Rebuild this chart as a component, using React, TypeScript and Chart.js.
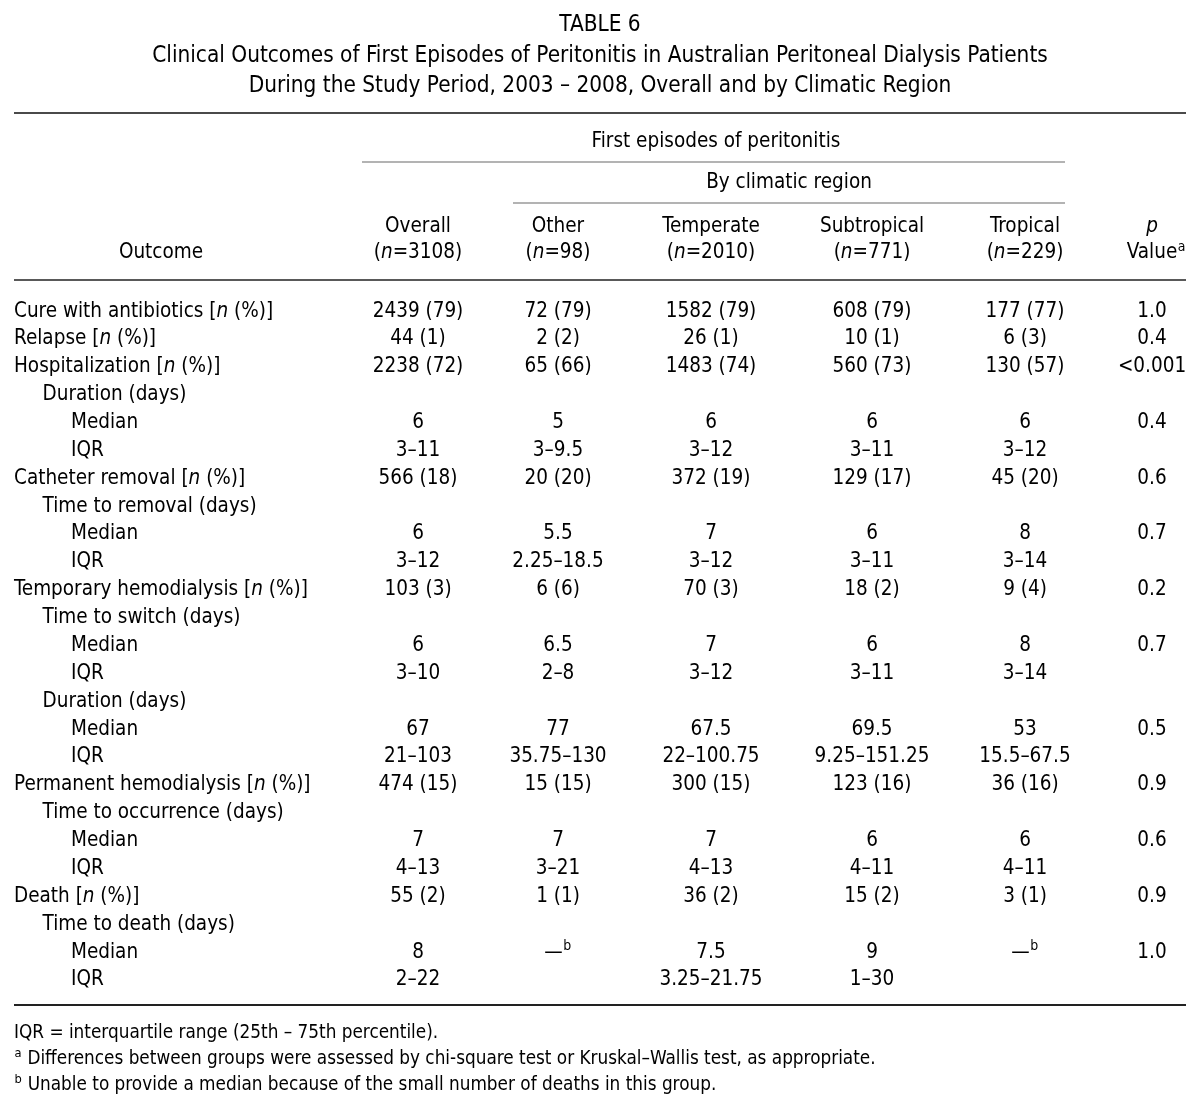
import React, { useEffect, useRef } from 'react';
import { Chart, registerables } from 'chart.js';

Chart.register(...registerables);

// ---------------- DATA ----------------
const TITLE_LINES = [
  'TABLE 6',
  'Clinical Outcomes of First Episodes of Peritonitis in Australian Peritoneal Dialysis Patients',
  'During the Study Period, 2003 – 2008, Overall and by Climatic Region',
];
const SPANNER_ALL = 'First episodes of peritonitis';
const SPANNER_REGION = 'By climatic region';
const OUTCOME_HEADER = 'Outcome';
const COLUMN_NAMES = ['Overall', 'Other', 'Temperate', 'Subtropical', 'Tropical'];
const COLUMN_N = ['3108', '98', '2010', '771', '229'];
const P_HEADER = ['*p*', 'Value^a'];

const ROW_LABELS = [
  'Cure with antibiotics [*n* (%)]',
  'Relapse [*n* (%)]',
  'Hospitalization [*n* (%)]',
  'Duration (days)',
  'Median',
  'IQR',
  'Catheter removal [*n* (%)]',
  'Time to removal (days)',
  'Median',
  'IQR',
  'Temporary hemodialysis [*n* (%)]',
  'Time to switch (days)',
  'Median',
  'IQR',
  'Duration (days)',
  'Median',
  'IQR',
  'Permanent hemodialysis [*n* (%)]',
  'Time to occurrence (days)',
  'Median',
  'IQR',
  'Death [*n* (%)]',
  'Time to death (days)',
  'Median',
  'IQR',
];
const ROW_LEVEL = [0, 0, 0, 1, 2, 2, 0, 1, 2, 2, 0, 1, 2, 2, 1, 2, 2, 0, 1, 2, 2, 0, 1, 2, 2];

const OVERALL = ['2439 (79)', '44 (1)', '2238 (72)', '', '6', '3–11', '566 (18)', '', '6', '3–12', '103 (3)', '', '6', '3–10', '', '67', '21–103', '474 (15)', '', '7', '4–13', '55 (2)', '', '8', '2–22'];
const OTHER = ['72 (79)', '2 (2)', '65 (66)', '', '5', '3–9.5', '20 (20)', '', '5.5', '2.25–18.5', '6 (6)', '', '6.5', '2–8', '', '77', '35.75–130', '15 (15)', '', '7', '3–21', '1 (1)', '', '—^b', ''];
const TEMPERATE = ['1582 (79)', '26 (1)', '1483 (74)', '', '6', '3–12', '372 (19)', '', '7', '3–12', '70 (3)', '', '7', '3–12', '', '67.5', '22–100.75', '300 (15)', '', '7', '4–13', '36 (2)', '', '7.5', '3.25–21.75'];
const SUBTROPICAL = ['608 (79)', '10 (1)', '560 (73)', '', '6', '3–11', '129 (17)', '', '6', '3–11', '18 (2)', '', '6', '3–11', '', '69.5', '9.25–151.25', '123 (16)', '', '6', '4–11', '15 (2)', '', '9', '1–30'];
const TROPICAL = ['177 (77)', '6 (3)', '130 (57)', '', '6', '3–12', '45 (20)', '', '8', '3–14', '9 (4)', '', '8', '3–14', '', '53', '15.5–67.5', '36 (16)', '', '6', '4–11', '3 (1)', '', '—^b', ''];
const P_VALUES = ['1.0', '0.4', '<0.001', '', '0.4', '', '0.6', '', '0.7', '', '0.2', '', '0.7', '', '', '0.5', '', '0.9', '', '0.6', '', '0.9', '', '1.0', ''];

const FOOTNOTES = [
  'IQR = interquartile range (25th – 75th percentile).',
  '^a Differences between groups were assessed by chi-square test or Kruskal–Wallis test, as appropriate.',
  '^b Unable to provide a median because of the small number of deaths in this group.',
];

// ---------------- LAYOUT / STYLE ----------------
const W = 1200;
const H = 1111;
const FONT = "'DejaVu Sans Condensed', 'DejaVu Sans', sans-serif";
const BODY_SIZE = 20.5;
const TITLE_SIZE = 22.4;
const NOTE_SIZE = 18.8;
const SUP_SCALE = 0.68;
const TEXT_COLOR = '#000';
const LABEL_X = 14;
const INDENT = 28.5;
const COL_X = [418, 558, 711, 872, 1025, 1152];
const BASELINE_SHIFT = 7;
const LAYOUT = {
  titleBaselines: [31, 62, 92],
  spannerAllY: 147,
  spannerRegionY: 188,
  headY1: 232,
  headY2: 258,
  outcomeX: 161,
  spannerAllX: 716,
  spannerRegionX: 789,
  noteBaselines: [1038, 1064, 1090],
  rules: [
    { y: 113, x1: 14, x2: 1186, w: 2, c: '#4a4a4a' },
    { y: 162, x1: 362, x2: 1065, w: 1.5, c: '#9a9a9a' },
    { y: 203, x1: 513, x2: 1065, w: 1.5, c: '#9a9a9a' },
    { y: 280, x1: 14, x2: 1186, w: 1.5, c: '#222' },
    { y: 1005, x1: 14, x2: 1186, w: 2, c: '#222' },
  ],
};

type Seg = { t: string; it: boolean; sup: boolean };

function parseRich(text: string): Seg[] {
  const segs: Seg[] = [];
  let it = false;
  let buf = '';
  for (let k = 0; k < text.length; k++) {
    const ch = text[k];
    if (ch === '*') {
      if (buf) segs.push({ t: buf, it, sup: false });
      buf = '';
      it = !it;
    } else if (ch === '^') {
      if (buf) segs.push({ t: buf, it, sup: false });
      buf = '';
      segs.push({ t: text[k + 1], it, sup: true });
      k++;
    } else {
      buf += ch;
    }
  }
  if (buf) segs.push({ t: buf, it, sup: false });
  return segs;
}

function drawRich(
  ctx: CanvasRenderingContext2D,
  text: string,
  x: number,
  y: number,
  size: number,
  align: 'left' | 'center' | 'right',
  hangSup = false
) {
  if (!text) return;
  const segs = parseRich(text);
  const fontOf = (s: Seg) => `${s.it ? 'italic ' : ''}${s.sup ? size * SUP_SCALE : size}px ${FONT}`;
  const widths = segs.map((s) => {
    ctx.font = fontOf(s);
    return ctx.measureText(s.t).width + (s.sup ? 1 : 0);
  });
  let total = 0;
  segs.forEach((s, i) => {
    if (!(hangSup && s.sup)) total += widths[i];
  });
  let cx = align === 'left' ? x : align === 'center' ? x - total / 2 : x - total;
  ctx.textAlign = 'left';
  ctx.textBaseline = 'alphabetic';
  ctx.fillStyle = TEXT_COLOR;
  segs.forEach((s, i) => {
    ctx.font = fontOf(s);
    ctx.fillText(s.t, cx + (s.sup ? 0.5 : 0), s.sup ? y - size * 0.36 : y);
    cx += widths[i];
  });
}

const tablePlugin = {
  id: 'tableText',
  afterDatasetsDraw(chart: any) {
    const ctx: CanvasRenderingContext2D = chart.ctx;
    ctx.save();
    // titles
    TITLE_LINES.forEach((t, i) => drawRich(ctx, t, W / 2, LAYOUT.titleBaselines[i], TITLE_SIZE, 'center'));
    // rules
    LAYOUT.rules.forEach((r) => {
      ctx.beginPath();
      ctx.strokeStyle = r.c;
      ctx.lineWidth = r.w;
      ctx.moveTo(r.x1, r.y);
      ctx.lineTo(r.x2, r.y);
      ctx.stroke();
    });
    // spanners & headers
    drawRich(ctx, SPANNER_ALL, LAYOUT.spannerAllX, LAYOUT.spannerAllY, BODY_SIZE, 'center');
    drawRich(ctx, SPANNER_REGION, LAYOUT.spannerRegionX, LAYOUT.spannerRegionY, BODY_SIZE, 'center');
    drawRich(ctx, OUTCOME_HEADER, LAYOUT.outcomeX, LAYOUT.headY2, BODY_SIZE, 'center');
    const xScale = chart.scales.x;
    COLUMN_NAMES.forEach((name, i) => {
      const px = xScale.getPixelForValue(COL_X[i]);
      drawRich(ctx, name, px, LAYOUT.headY1, BODY_SIZE, 'center');
      drawRich(ctx, `(*n*=${COLUMN_N[i]})`, px, LAYOUT.headY2, BODY_SIZE, 'center');
    });
    const pX = xScale.getPixelForValue(COL_X[5]);
    drawRich(ctx, P_HEADER[0], pX, LAYOUT.headY1, BODY_SIZE, 'center');
    drawRich(ctx, P_HEADER[1], pX, LAYOUT.headY2, BODY_SIZE, 'center', true);

    // cells from dataset elements
    chart.data.datasets.forEach((ds: any, di: number) => {
      const meta = chart.getDatasetMeta(di);
      meta.data.forEach((el: any, ri: number) => {
        const txt = ds.cells[ri];
        if (!txt) return;
        if (ds.isLabel) {
          drawRich(ctx, txt, el.x + ROW_LEVEL[ri] * INDENT, el.y + BASELINE_SHIFT, BODY_SIZE, 'left');
        } else {
          drawRich(ctx, txt, el.x, el.y + BASELINE_SHIFT, BODY_SIZE, 'center');
        }
      });
    });

    // footnotes
    FOOTNOTES.forEach((t, i) => drawRich(ctx, t, LABEL_X, LAYOUT.noteBaselines[i], NOTE_SIZE, 'left'));
    ctx.restore();
  },
};

export default function App() {
  const canvasRef = useRef<HTMLCanvasElement | null>(null);

  useEffect(() => {
    document.body.style.margin = '0';
    const canvas = canvasRef.current;
    if (!canvas) return;
    const columns = [OVERALL, OTHER, TEMPERATE, SUBTROPICAL, TROPICAL, P_VALUES];
    const mk = (x: number, cells: string[], isLabel: boolean) => ({
      data: ROW_LABELS.map((lab) => ({ x, y: lab })),
      cells,
      isLabel,
      pointRadius: 0,
      pointHoverRadius: 0,
      showLine: false,
    });
    const datasets: any[] = [mk(LABEL_X, ROW_LABELS, true), ...columns.map((c, i) => mk(COL_X[i], c, false))];

    const rowTop = 309.5 - 27.87 / 2;
    const rowBottom = 309.5 + 24 * 27.87 + 27.87 / 2;

    const chart = new Chart(canvas, {
      type: 'scatter',
      data: { labels: ROW_LABELS, datasets },
      options: {
        animation: false,
        responsive: true,
        maintainAspectRatio: false,
        events: [],
        layout: { padding: { top: rowTop, bottom: H - rowBottom, left: 0, right: 0 } },
        plugins: { legend: { display: false }, tooltip: { enabled: false }, title: { display: false } },
        scales: {
          x: { type: 'linear', min: 0, max: W, display: false },
          y: { type: 'category', labels: ROW_LABELS, offset: true, display: false },
        },
      } as any,
      plugins: [tablePlugin],
    });
    return () => chart.destroy();
  }, []);

  return (
    <div style={{ position: 'relative', width: W, height: H, background: '#fff' }}>
      <canvas ref={canvasRef} />
    </div>
  );
}
